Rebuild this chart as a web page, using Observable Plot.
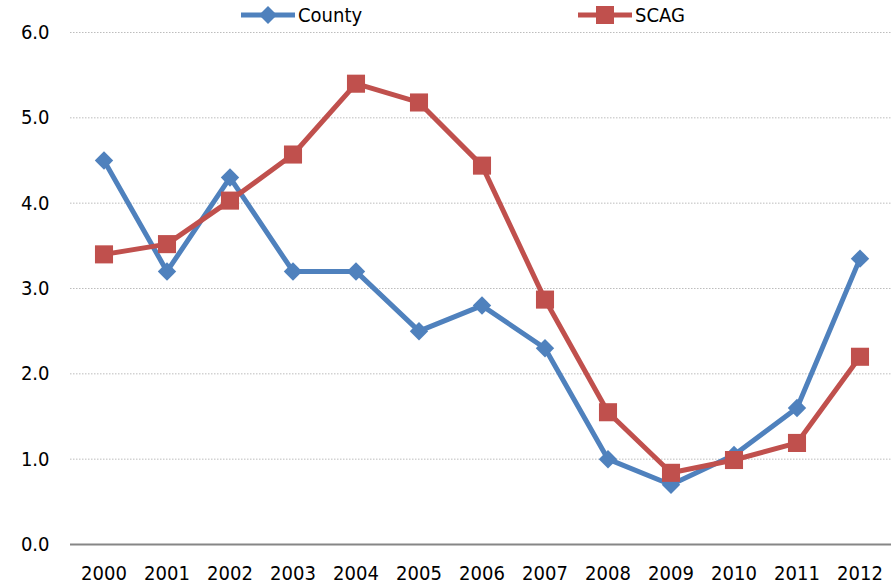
<!DOCTYPE html>
<html><head><meta charset="utf-8">
<script src="https://cdn.jsdelivr.net/npm/d3@7"></script>
<script src="https://cdn.jsdelivr.net/npm/@observablehq/plot@0.6"></script>
<style>
body{margin:0;background:#fff;font-family:"Liberation Sans Narrow","DejaVu Sans Condensed",sans-serif;}
#wrap{position:relative;width:891px;height:587px;}
.leg{position:absolute;top:3px;display:flex;align-items:center;font-size:20px;color:#000;}
.leg svg{margin-right:2px;}
</style></head>
<body><div id="wrap">
<div class="leg" style="left:240px"><svg width="56" height="22"><line x1="1" y1="11" x2="55" y2="11" stroke="#4F81BD" stroke-width="5"/><path d="M28,2 L37,11 L28,20 L19,11Z" fill="#4F81BD"/></svg>County</div>
<div class="leg" style="left:577px"><svg width="56" height="22"><line x1="1" y1="11" x2="55" y2="11" stroke="#C0504D" stroke-width="5"/><rect x="19" y="2" width="18" height="18" fill="#C0504D"/></svg>SCAG</div>
</div>
<script>
const years = ["2000","2001","2002","2003","2004","2005","2006","2007","2008","2009","2010","2011","2012"];
const county = [4.5,3.2,4.3,3.2,3.2,2.5,2.8,2.3,1.0,0.7,1.05,1.6,3.35];
const scag = [3.4,3.52,4.03,4.57,5.4,5.18,4.44,2.87,1.55,0.84,0.99,1.19,2.2];
const yTicks = [0,1,2,3,4,5,6];

const dC = years.map((y,i)=>({year:y, v:county[i]}));
const dS = years.map((y,i)=>({year:y, v:scag[i]}));

const chart = Plot.plot({
  width: 891, height: 587,
  marginLeft: 70, marginRight: -2, marginTop: 32, marginBottom: 43,
  style: {fontFamily: '"Liberation Sans Narrow","DejaVu Sans Condensed",sans-serif', fontSize: "20px", color: "#000", background: "#fff"},
  x: {type: "band", domain: years, padding: 0, label: null, tickSize: 0, tickPadding: 21},
  y: {domain: [0,6], ticks: yTicks, tickFormat: d => d.toFixed(1), label: null, tickSize: 0, tickPadding: 21},
  marks: [
    Plot.ruleY(yTicks.filter(t=>t>0), {stroke: "#bdbdbd", strokeWidth: 1, strokeDasharray: "1.5,1.5"}),
    Plot.ruleY([0], {stroke: "#868686", strokeWidth: 2}),
    Plot.line(dC, {x: "year", y: "v", stroke: "#4F81BD", strokeWidth: 5}),
    Plot.dot(dC, {x: "year", y: "v", symbol: "diamond2", r: 8.3, fill: "#4F81BD", stroke: "none"}),
    Plot.line(dS, {x: "year", y: "v", stroke: "#C0504D", strokeWidth: 5}),
    Plot.dot(dS, {x: "year", y: "v", symbol: "square", r: 10.2, fill: "#C0504D", stroke: "none"})
  ]
});
const wrap = document.getElementById("wrap");
wrap.insertBefore(chart, wrap.firstChild);
</script>
</body></html>
